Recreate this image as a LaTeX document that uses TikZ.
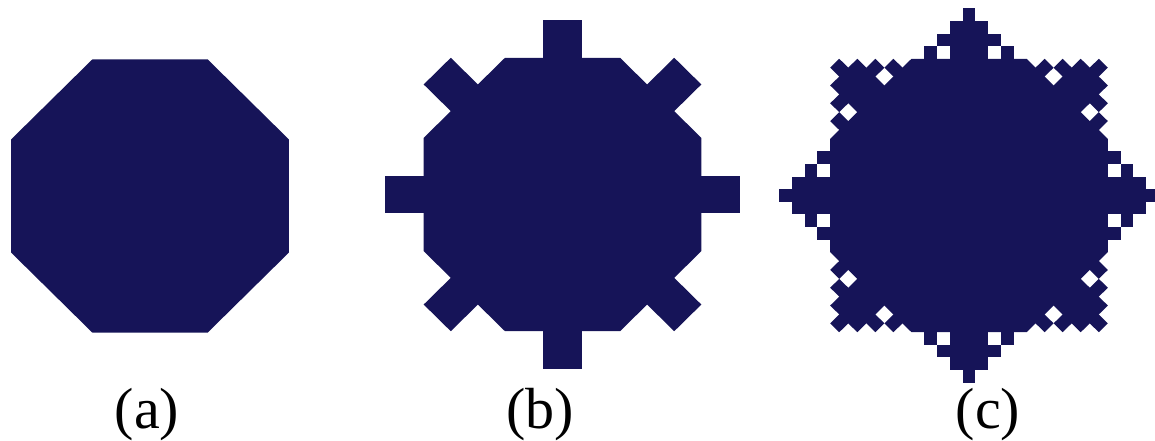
\documentclass[tikz,border=0pt]{standalone}
\usepackage{fontspec}
\setmainfont{Liberation Serif}
\definecolor{navy}{RGB}{22,20,88}
\tikzset{
  shapefill/.style={fill=navy, draw=none},
  sublabel/.style={anchor=base, inner sep=0pt, font=\fontsize{58}{60}\selectfont}
}
\begin{document}
\begin{tikzpicture}[x=1pt,y=1pt]
\useasboundingbox (0,0) rectangle (1155,440);
\pgfmathsetmacro\Ls{115}
\pgfmathsetmacro\Hp{\Ls/2*(1+sqrt(2))}
\pgfmathsetmacro\Rc{\Ls/(2*sin(22.5))}
\pgfmathsetmacro\sA{\Ls/6}
\pgfmathsetmacro\sB{\Ls/3}
\pgfmathsetmacro\tA{\Ls/18}
\pgfmathsetmacro\tC{5*\Ls/18}
\pgfmathsetmacro\tD{7*\Ls/18}
\pgfmathsetmacro\tN{\Ls/9}
% (a) octagon
\begin{scope}[shift={(150,244)},yscale=0.985]
  \fill[shapefill] (22.5:\Rc) -- (67.5:\Rc) -- (112.5:\Rc) -- (157.5:\Rc) -- (202.5:\Rc) -- (247.5:\Rc) -- (292.5:\Rc) -- (337.5:\Rc) -- cycle;
\end{scope}
% (b) first generation
\begin{scope}[shift={(562.5,245.5)},yscale=0.985]
  \fill[shapefill] (22.5:\Rc) -- (67.5:\Rc) -- (112.5:\Rc) -- (157.5:\Rc) -- (202.5:\Rc) -- (247.5:\Rc) -- (292.5:\Rc) -- (337.5:\Rc) -- cycle;
  \foreach \k in {0,...,7}{
    \begin{scope}[rotate=\k*45]
      \fill[shapefill] ({-\sA},{\Hp-1}) rectangle ({\sA},{\Hp+\sB});
    \end{scope}
  }
\end{scope}
% (c) second generation
\begin{scope}[shift={(969,244.5)},yscale=0.985]
  \fill[shapefill] (22.5:\Rc) -- (67.5:\Rc) -- (112.5:\Rc) -- (157.5:\Rc) -- (202.5:\Rc) -- (247.5:\Rc) -- (292.5:\Rc) -- (337.5:\Rc) -- cycle;
  \foreach \k in {0,...,7}{
    \begin{scope}[rotate=\k*45]
      \fill[shapefill] ({-\sA},{\Hp-1}) rectangle ({\sA},{\Hp+\sB});
      \fill[shapefill] ({-\tD},{\Hp-1}) rectangle ({-\tC},{\Hp+\tN});
      \fill[shapefill] ({-\tC},{\Hp+\tN}) rectangle ({-\sA+1},{\Hp+2*\tN});
      \fill[shapefill] ({-\tA},{\Hp+\sB-1}) rectangle ({\tA},{\Hp+\sB+\tN});
      \fill[shapefill] ({\sA-1},{\Hp+\tN}) rectangle ({\tC},{\Hp+2*\tN});
      \fill[shapefill] ({\tC},{\Hp-1}) rectangle ({\tD},{\Hp+\tN});
    \end{scope}
  }
\end{scope}
% labels
\node[sublabel] (la) at (147,12) {(a)};
\node[sublabel] (lb) at (540,12) {(b)};
\node[sublabel] (lc) at (988,12) {(c)};
\end{tikzpicture}
\end{document}
